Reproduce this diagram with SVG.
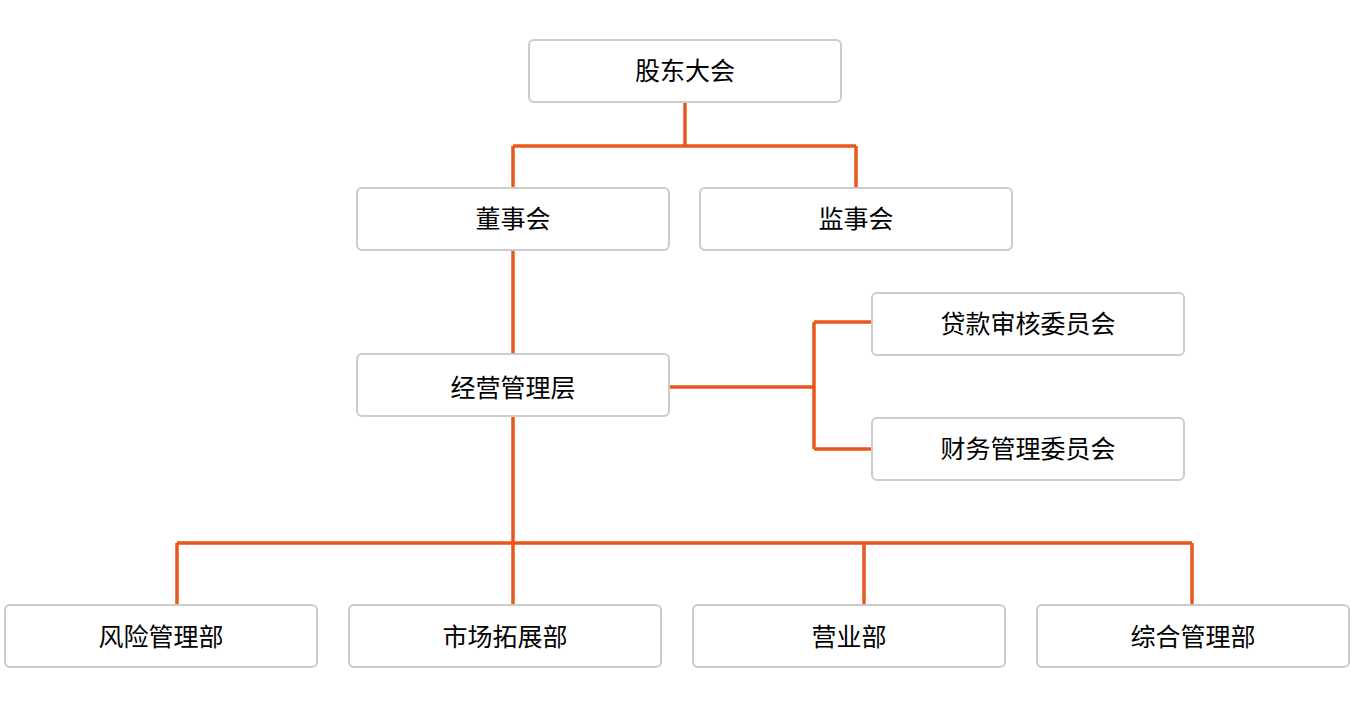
<svg xmlns="http://www.w3.org/2000/svg" width="1354" height="708" viewBox="0 0 1354 708">
<style>
.box{fill:#fff;stroke:#cccccc;stroke-width:2}
.lbl{font-family:"Noto Sans CJK SC","Noto Sans",sans-serif;font-size:25px;fill:#000;text-anchor:middle;dominant-baseline:central}
.con{fill:none;stroke:#e8581c;stroke-width:3.5}
</style>
<rect width="1354" height="708" fill="#fff"/>
<g id="connectors">
<path class="con" d="M685 102V146M513 146H856M513 146V188M856 146V188"/>
<path class="con" d="M513 250V354"/>
<path class="con" d="M669 387H814M814 322V449M814 322H872M814 449H872"/>
<path class="con" d="M513 416V606M177 543H1192M177 543V605M864 543V605M1192 543V605"/>
</g>
<g id="n1"><rect class="box" x="529" y="40" width="312" height="62" rx="5"/><text class="lbl" x="685" y="69">股东大会</text></g>
<g id="n2"><rect class="box" x="357" y="188" width="312" height="62" rx="5"/><text class="lbl" x="513" y="217">董事会</text></g>
<g id="n3"><rect class="box" x="700" y="188" width="312" height="62" rx="5"/><text class="lbl" x="856" y="217">监事会</text></g>
<g id="n4"><rect class="box" x="357" y="354" width="312" height="62" rx="5"/><text class="lbl" x="513" y="386">经营管理层</text></g>
<g id="n5"><rect class="box" x="872" y="293" width="312" height="62" rx="5"/><text class="lbl" x="1028" y="322">贷款审核委员会</text></g>
<g id="n6"><rect class="box" x="872" y="418" width="312" height="62" rx="5"/><text class="lbl" x="1028" y="447">财务管理委员会</text></g>
<g id="n7"><rect class="box" x="5" y="605" width="312" height="62" rx="5"/><text class="lbl" x="161" y="635">风险管理部</text></g>
<g id="n8"><rect class="box" x="349" y="605" width="312" height="62" rx="5"/><text class="lbl" x="505" y="635">市场拓展部</text></g>
<g id="n9"><rect class="box" x="693" y="605" width="312" height="62" rx="5"/><text class="lbl" x="849" y="635">营业部</text></g>
<g id="n10"><rect class="box" x="1037" y="605" width="312" height="62" rx="5"/><text class="lbl" x="1193" y="635">综合管理部</text></g>
</svg>
